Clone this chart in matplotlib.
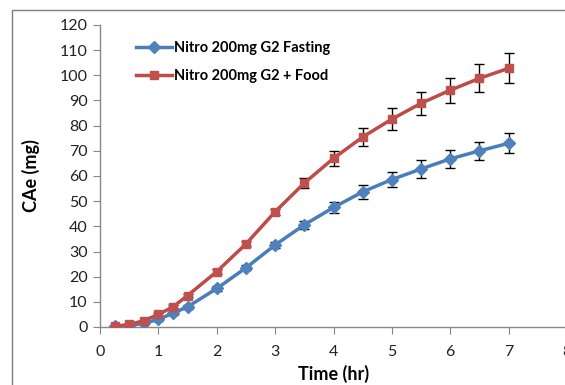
import matplotlib
matplotlib.use("Agg")
import matplotlib.pyplot as plt
from matplotlib.patches import Rectangle
from matplotlib.lines import Line2D

plt.rcParams['font.family'] = ['Lato', 'DejaVu Sans']

time_hr = [0.25, 0.5, 0.75, 1, 1.25, 1.5, 2, 2.5, 3, 3.5, 4, 4.5, 5, 5.5, 6, 6.5, 7]
fasting = [0.2, 0.5, 1.5, 3.0, 5.5, 8.0, 15.3, 23.5, 32.6, 40.6, 47.5, 53.7, 58.6, 62.8, 66.8, 70.0, 73.0]
fasting_err = [0.2, 0.3, 0.4, 0.5, 0.6, 0.7, 0.9, 1.0, 1.2, 1.5, 2.2, 2.8, 3.0, 3.4, 3.5, 3.6, 4.0]
food = [0.3, 1.0, 2.5, 5.0, 8.0, 12.5, 22.0, 33.0, 45.8, 57.2, 67.0, 75.5, 82.6, 88.9, 94.1, 98.8, 102.8]
food_err = [0.2, 0.3, 0.4, 0.5, 0.6, 0.7, 0.9, 1.0, 1.2, 2.0, 3.0, 3.7, 4.3, 4.6, 5.0, 5.6, 6.0]
labels = ["Nitro 200mg G2 Fasting", "Nitro 200mg G2 + Food"]
xticks = [0, 1, 2, 3, 4, 5, 6, 7, 8]
yticks = [0, 10, 20, 30, 40, 50, 60, 70, 80, 90, 100, 110, 120]

blue = "#4A7EBB"
red = "#BE4B48"
gray = "#868686"

W, H = 565, 385
fig = plt.figure(figsize=(W / 100, H / 100), dpi=100)
fig.patches.append(Rectangle((12 / W, -0.1), 1.2, (H - 10) / H + 0.1,
                             transform=fig.transFigure, fill=False,
                             edgecolor="#7f7f7f", linewidth=1.0))

ax = fig.add_axes([100 / W, (H - 327) / H, 467 / W, 302 / H])

ax.errorbar(time_hr, fasting, yerr=fasting_err, color=blue, linewidth=2.5,
            marker='D', markersize=6.5, markerfacecolor="#4F81BD",
            markeredgecolor="#4F81BD", ecolor="black", elinewidth=1,
            capsize=3.5, capthick=1, zorder=3)
ax.errorbar(time_hr, food, yerr=food_err, color=red, linewidth=2.5,
            marker='s', markersize=6, markerfacecolor="#C0504D",
            markeredgecolor="#C0504D", ecolor="black", elinewidth=1,
            capsize=3.5, capthick=1, zorder=3)

ax.set_xlim(0, 8)
ax.set_ylim(0, 120)
ax.set_xticks(xticks)
ax.set_yticks(yticks)
ax.tick_params(axis='both', direction='out', length=5, color=gray,
               labelsize=11.5, labelcolor="#222222", pad=4)
ax.tick_params(axis='x', pad=8)
for s in ['top', 'right']:
    ax.spines[s].set_visible(False)
for s in ['left', 'bottom']:
    ax.spines[s].set_color(gray)
    ax.spines[s].set_linewidth(1)

ax.set_xlabel("Time (hr)", fontsize=13, fontweight='bold', labelpad=4)
ax.set_ylabel("CAe (mg)", fontsize=13, fontweight='bold', labelpad=14)

handles = [
    Line2D([0], [0], color=blue, linewidth=2.5, marker='D', markersize=6.5,
           markerfacecolor="#4F81BD", markeredgecolor="#4F81BD"),
    Line2D([0], [0], color=red, linewidth=2.5, marker='s', markersize=6,
           markerfacecolor="#C0504D", markeredgecolor="#C0504D"),
]
leg = ax.legend(handles, labels, loc='upper left',
                bbox_to_anchor=((130 - 100) / 467, (327 - 35) / 302),
                frameon=False, handlelength=2.5, handletextpad=0.1,
                labelspacing=1.0, borderaxespad=0,
                prop={'weight': 'bold', 'size': 10.5})

fig.savefig("out.png", dpi=100)
